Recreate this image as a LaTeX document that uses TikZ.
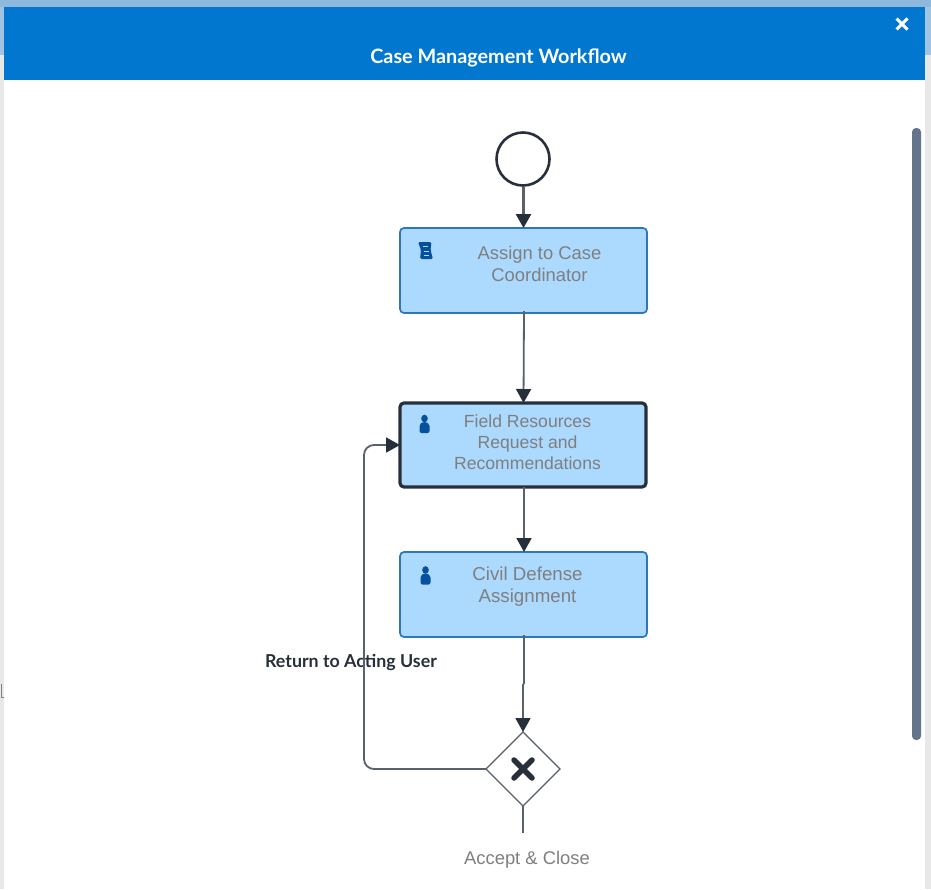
\documentclass[tikz,border=0pt]{standalone}
\usepackage{fontspec}
\setmainfont{Liberation Sans}
\newfontfamily\uifont{Lato}
\usetikzlibrary{arrows.meta,shapes.geometric}
\definecolor{hdr}{HTML}{0277CF}
\definecolor{topstrip}{HTML}{8FB9DC}
\definecolor{sidegray}{HTML}{E8E8E8}
\definecolor{taskfill}{HTML}{ACD9FE}
\definecolor{taskedge}{HTML}{2F78B5}
\definecolor{ink}{HTML}{27303A}
\definecolor{wire}{HTML}{59616A}
\definecolor{labelgray}{HTML}{7F7F7F}
\definecolor{iconblue}{HTML}{05519C}
\definecolor{scrollc}{HTML}{64748A}
\tikzset{
  x=1pt,y=-1pt,
  taskbox/.style={draw=taskedge,fill=taskfill,line width=1.7pt,rounded corners=4pt,minimum width=247pt,minimum height=85pt,inner sep=0pt,outer sep=0pt},
  activebox/.style={taskbox,draw=ink,line width=3.2pt},
  tasktext/.style={text=labelgray,font=\fontsize{18.4}{22}\selectfont,align=center,inner sep=0pt},
  flow/.style={draw=wire,line width=1.8pt,-{Triangle[length=14pt,width=15pt,fill=ink,color=ink]}},
  plainflow/.style={draw=wire,line width=1.8pt},
  startev/.style={circle,draw=ink,fill=white,line width=2.6pt,minimum size=53pt,inner sep=0pt,outer sep=1pt},
  gateway/.style={diamond,draw=wire,fill=white,line width=1.3pt,minimum width=74pt,minimum height=74pt,inner sep=0pt,outer sep=0pt},
  crossmark/.style={draw=ink,line width=5.5pt,line cap=round},
  person/.style={fill=iconblue,draw=none},
}
\begin{document}
\begin{tikzpicture}
\useasboundingbox (0,0) rectangle (931,889);
\fill[white] (0,0) rectangle (931,889);
% surrounding page
\fill[sidegray] (0,55) rectangle (4,889);
\fill[sidegray] (925,55) rectangle (931,889);
\fill[topstrip] (0,0) rectangle (931,7);
\fill[topstrip!85!white] (0,7) rectangle (4,55);
\fill[topstrip!85!white] (925,7) rectangle (931,55);
\draw[labelgray,line width=1pt] (1,684) -- (1,697) -- (4,697);
% header
\fill[hdr] (4,7) rectangle (925,80);
\node[text=white,font=\uifont\bfseries\fontsize{19.8}{23}\selectfont,inner sep=0pt] (title) at (498.5,58) {Case Management Workflow};
\coordinate (closec) at (902,24);
\draw[white,line width=3pt] ([shift={(-5.5,-5.5)}]closec) -- ([shift={(5.5,5.5)}]closec);
\draw[white,line width=3pt] ([shift={(-5.5,5.5)}]closec) -- ([shift={(5.5,-5.5)}]closec);
% scrollbar
\fill[scrollc,rounded corners=4pt] (912,128) rectangle (921,740);
% nodes
\node[startev] (start) at (523,159) {};
\node[taskbox] (assign) at (523.5,270.5) {};
\node[activebox,minimum width=246pt,minimum height=84pt] (field) at (523,445) {};
\node[taskbox] (civil) at (523.5,594.5) {};
\node[gateway] (gate) at (523,769) {};
\coordinate (gateend) at (523,833);
\coordinate (loopcornerA) at (364,769);
\coordinate (loopcornerB) at (364,445);
% task labels
\node[tasktext] (assigntext) at (539.5,264) {Assign to Case\\Coordinator};
\node[tasktext,font=\fontsize{17.6}{21.2}\selectfont] (fieldtext) at (527.5,442) {Field Resources\\Request and\\Recommendations};
\node[tasktext,font=\fontsize{18.7}{22}\selectfont] (civiltext) at (527.5,586.5) {Civil Defense\\Assignment};
\node[text=labelgray,font=\fontsize{18.4}{22}\selectfont,inner sep=0pt] (accepttext) at (527,859.5) {Accept \& Close};
\node[text=ink,font=\uifont\bfseries\fontsize{17.8}{21}\selectfont,inner sep=0pt] (returntext) at (351,662) {Return to Acting User};
% connectors
\draw[flow,line width=2.6pt] (start.south) ++(0.5,0) -- (assign.north);
\draw[flow] (assign.south) ++(0.5,-2) -- ([xshift=0.5pt]field.north);
\draw[flow] (field.south) ++(1,0) -- ([xshift=0.5pt]civil.north);
\draw[flow] (civil.south) ++(0.5,-2) -- (524,683) -- (523,685) -- (gate.north);
\draw[flow,rounded corners=10pt] (gate.west) -- (loopcornerA) -- (loopcornerB) -- (field.west);
\draw[plainflow] (gate.south) -- (gateend);
% gateway cross
\draw[crossmark] ([shift={(-9,-9)}]gate.center) -- ([shift={(9,9)}]gate.center);
\draw[crossmark] ([shift={(-9,9)}]gate.center) -- ([shift={(9,-9)}]gate.center);
% script icon
\begin{scope}[shift={(418,242)}]
  \fill[iconblue,rounded corners=1.5pt] (0,0) -- (13.5,0) -- (12.5,8) -- (15,17) -- (2,17) -- (3,8) -- cycle;
  \draw[taskfill,line width=0.9pt] (5,4.5) -- (9.5,4.5) (5.5,9) -- (10.5,9) (6,13) -- (11,13);
\end{scope}
% person icons
\begin{scope}[shift={(424.5,424)}]
  \fill[person] (0,-5.5) ellipse (3.3 and 3.8);
  \fill[person,rounded corners=2pt] (-5,9) -- (-5,0) -- (-2,-2) -- (2,-2) -- (5,0) -- (5,9) -- cycle;
\end{scope}
\begin{scope}[shift={(425.5,575.5)}]
  \fill[person] (0,-5.5) ellipse (3.3 and 3.8);
  \fill[person,rounded corners=2pt] (-5,9) -- (-5,0) -- (-2,-2) -- (2,-2) -- (5,0) -- (5,9) -- cycle;
\end{scope}
\end{tikzpicture}
\end{document}
